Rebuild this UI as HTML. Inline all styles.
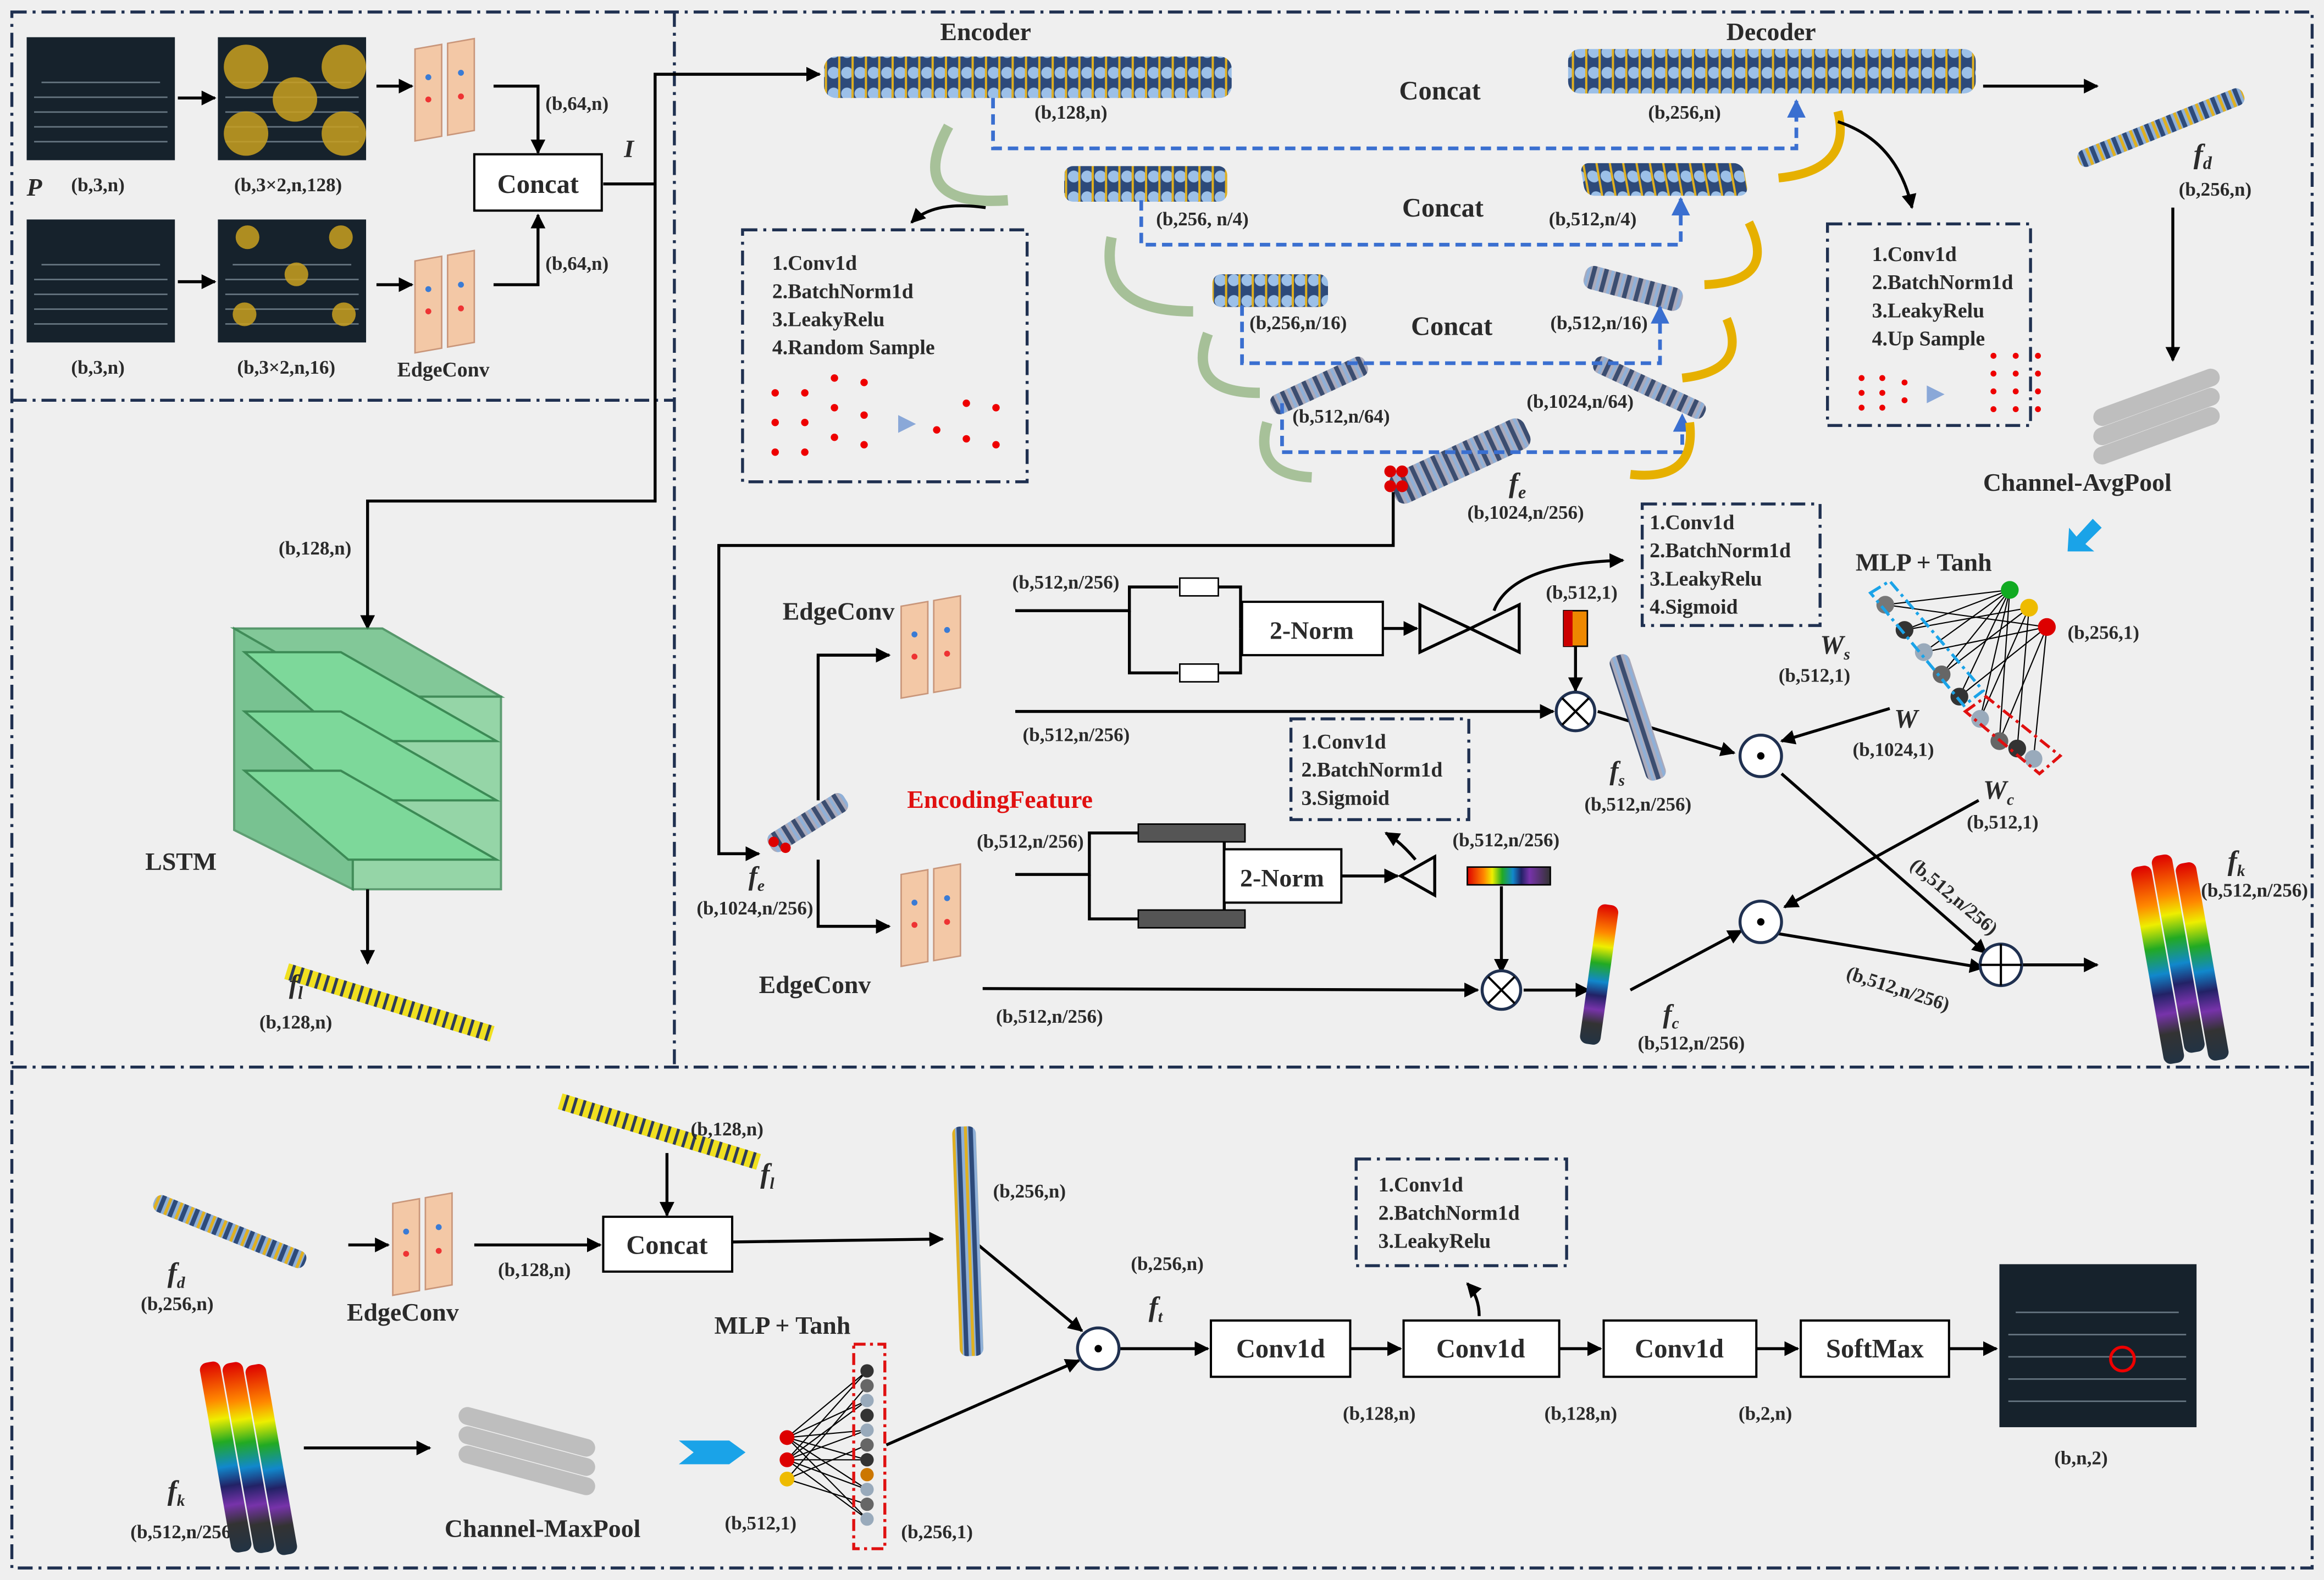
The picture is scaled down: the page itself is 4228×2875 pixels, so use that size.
<!DOCTYPE html>
<html><head><meta charset="utf-8"><style>
html,body{margin:0;padding:0;background:#efefef}
svg{display:block}
text{font-family:"Liberation Serif",serif;font-weight:bold;fill:#2a2a2a}
</style></head><body>
<svg width="4228" height="2875" viewBox="0 0 1568 1066" xmlns="http://www.w3.org/2000/svg">
<defs>
<marker id="a" viewBox="0 0 10 10" refX="9" refY="5" markerWidth="5" markerHeight="5" orient="auto"><path d="M0,0L10,5L0,10z" fill="#000"/></marker>
<marker id="ab" viewBox="0 0 10 10" refX="9" refY="5" markerWidth="5" markerHeight="5" orient="auto"><path d="M0,0L10,5L0,10z" fill="#3a6fd0"/></marker>
<pattern id="st" width="8" height="10" patternUnits="userSpaceOnUse"><rect width="8" height="10" fill="#8fb0d8"/><rect x="0" width="3" height="10" fill="#2d4a7a"/><rect x="5" width="2" height="10" fill="#e0b020"/></pattern>
<pattern id="st2" width="9" height="14" patternUnits="userSpaceOnUse"><rect width="9" height="14" fill="#2d4a7a"/><circle cx="4.5" cy="7" r="4" fill="#9cc0e8"/><rect x="7.5" width="1.5" height="14" fill="#e0b020"/></pattern>
<pattern id="gs" width="8" height="10" patternUnits="userSpaceOnUse"><rect width="8" height="10" fill="#aab"/><rect width="3" height="10" fill="#3b4d70"/><rect x="5" width="2" height="10" fill="#8fb0d8"/></pattern>
<pattern id="ys" width="6" height="10" patternUnits="userSpaceOnUse"><rect width="6" height="10" fill="#f0e020"/><rect width="2" height="10" fill="#2d3b5a"/></pattern>
<linearGradient id="rb" x1="0" y1="0" x2="0" y2="1"><stop offset="0" stop-color="#d00"/><stop offset=".2" stop-color="#f80"/><stop offset=".3" stop-color="#ee0"/><stop offset=".42" stop-color="#2a2"/><stop offset=".55" stop-color="#18c"/><stop offset=".65" stop-color="#226"/><stop offset=".75" stop-color="#73a"/><stop offset=".85" stop-color="#333"/><stop offset="1" stop-color="#234"/></linearGradient>
<linearGradient id="rbh" x1="0" y1="0" x2="1" y2="0"><stop offset="0" stop-color="#d00"/><stop offset=".2" stop-color="#f80"/><stop offset=".3" stop-color="#ee0"/><stop offset=".42" stop-color="#2a2"/><stop offset=".55" stop-color="#18c"/><stop offset=".65" stop-color="#226"/><stop offset=".75" stop-color="#73a"/><stop offset="1" stop-color="#333"/></linearGradient>
<g id="ec"><rect x="0" y="6" width="18" height="62" fill="#f3c8a6" stroke="#c9967a" transform="skewY(-10)"/><rect x="22" y="6" width="18" height="62" fill="#f3c8a6" stroke="#c9967a" transform="skewY(-10)"/><circle cx="9" cy="25" r="2" fill="#3a7bd5"/><circle cx="9" cy="40" r="2" fill="#e33"/><circle cx="31" cy="22" r="2" fill="#3a7bd5"/><circle cx="31" cy="38" r="2" fill="#e33"/></g>
<g id="pc"><rect width="100" height="83" fill="#16222c"/><g fill="#8a9aa6" opacity=".7"><rect x="5" y="40" width="90" height="1"/><rect x="5" y="50" width="90" height="1"/><rect x="5" y="60" width="90" height="1"/><rect x="5" y="70" width="90" height="1"/><rect x="10" y="30" width="80" height="1"/></g></g>
</defs>
<rect width="1568" height="1066" fill="#efefef"/>
<g fill="none" stroke="#1f3050" stroke-width="2" stroke-dasharray="10,4,2,4">
<rect x="8" y="8" width="1552" height="1050"/>
<line x1="8" y1="270" x2="455" y2="270"/>
<line x1="455" y1="8" x2="455" y2="718"/>
<line x1="8" y1="720" x2="1560" y2="720"/>
</g>
<use href="#pc" x="18" y="25"/>
<use href="#pc" x="147" y="25"/>
<g fill="#c9a020" opacity=".85"><circle cx="166" cy="45" r="15"/><circle cx="232" cy="45" r="15"/><circle cx="199" cy="67" r="15"/><circle cx="166" cy="90" r="15"/><circle cx="232" cy="90" r="15"/></g>
<use href="#pc" x="18" y="148"/>
<use href="#pc" x="147" y="148"/>
<g fill="#c9a020" opacity=".85"><circle cx="167" cy="160" r="8"/><circle cx="230" cy="160" r="8"/><circle cx="200" cy="185" r="8"/><circle cx="165" cy="212" r="8"/><circle cx="232" cy="212" r="8"/></g>
<g stroke="#000" stroke-width="2" fill="none" marker-end="url(#a)">
<line x1="120" y1="66" x2="145" y2="66"/><line x1="254" y1="58" x2="278" y2="58"/>
<line x1="120" y1="190" x2="145" y2="190"/><line x1="254" y1="192" x2="278" y2="192"/>
<polyline points="333,58 363,58 363,103"/><polyline points="333,192 363,192 363,145"/>
<polyline points="407,124 442,124 442,50 553,50"/>
<polyline points="442,124 442,338 248,338 248,424"/>
</g>
<use href="#ec" x="280" y="27"/><use href="#ec" x="280" y="170"/>
<rect x="320" y="104" width="86" height="38" fill="#fff" stroke="#000" stroke-width="1.5"/>
<text x="363" y="130" font-size="18" text-anchor="middle">Concat</text>
<text x="421" y="106" font-size="17" font-style="italic">I</text>
<text x="18" y="132" font-size="17" font-style="italic">P</text>
<g font-size="13"><text x="48" y="129">(b,3,n)</text><text x="158" y="129">(b,3×2,n,128)</text><text x="368" y="74">(b,64,n)</text><text x="368" y="182">(b,64,n)</text>
<text x="48" y="252">(b,3,n)</text><text x="160" y="252">(b,3×2,n,16)</text><text x="268" y="254" font-size="14">EdgeConv</text>
<text x="188" y="374">(b,128,n)</text></g>
<g stroke="#3c8a55" stroke-width="1.5">
<polygon points="158,424 258,424 338,470 238,470" fill="#6fc28a" opacity=".85"/>
<polygon points="238,470 338,470 338,600 238,600" fill="#7fcf96" opacity=".8"/>
<polygon points="158,424 238,470 238,600 158,560" fill="#5bb87a" opacity=".8"/>
<polygon points="165,440 230,440 335,500 235,500" fill="#7dd89a"/>
<polygon points="165,480 230,480 335,540 235,540" fill="#7dd89a"/>
<polygon points="165,520 230,520 335,580 235,580" fill="#7dd89a"/>
</g>
<text x="98" y="587" font-size="17">LSTM</text>
<line x1="248" y1="600" x2="248" y2="650" stroke="#000" stroke-width="2" marker-end="url(#a)"/>
<rect x="195" y="650" width="145" height="11" fill="url(#ys)" transform="rotate(17 195 650)"/>
<text x="195" y="670" font-size="18" font-style="italic">f<tspan font-size="12" dy="4">l</tspan></text>
<text x="175" y="694" font-size="13">(b,128,n)</text>
<text x="665" y="27" font-size="17" text-anchor="middle">Encoder</text>
<text x="1195" y="27" font-size="17" text-anchor="middle">Decoder</text>
<rect x="556" y="38" width="275" height="28" rx="8" fill="url(#st2)"/>
<rect x="1058" y="33" width="275" height="30" rx="8" fill="url(#st2)"/>
<text x="698" y="80" font-size="13">(b,128,n)</text><text x="1112" y="80" font-size="13">(b,256,n)</text>
<text x="944" y="67" font-size="18">Concat</text>
<rect x="718" y="112" width="110" height="24" rx="6" fill="url(#st2)"/>
<rect x="1068" y="110" width="110" height="22" rx="6" fill="url(#st2)" transform="skewX(10)" transform-origin="1120 122"/>
<text x="946" y="146" font-size="18">Concat</text>
<text x="780" y="152" font-size="13">(b,256, n/4)</text><text x="1045" y="152" font-size="13">(b,512,n/4)</text>
<rect x="818" y="185" width="78" height="22" rx="6" fill="url(#st2)"/>
<rect x="1068" y="186" width="68" height="16" rx="6" fill="url(#gs)" transform="rotate(15 1100 194)"/>
<text x="952" y="226" font-size="18">Concat</text>
<text x="843" y="222" font-size="13">(b,256,n/16)</text><text x="1046" y="222" font-size="13">(b,512,n/16)</text>
<rect x="855" y="253" width="70" height="14" rx="5" fill="url(#gs)" transform="rotate(-25 890 260)"/>
<rect x="1072" y="255" width="82" height="12" rx="5" fill="url(#gs)" transform="rotate(25 1112 261)"/>
<text x="872" y="285" font-size="13">(b,512,n/64)</text><text x="1030" y="275" font-size="13">(b,1024,n/64)</text>
<rect x="935" y="300" width="100" height="22" rx="7" fill="url(#gs)" transform="rotate(-25 985 311)"/>
<g fill="#d00"><circle cx="938" cy="318" r="4"/><circle cx="946" cy="318" r="4"/><circle cx="938" cy="328" r="4"/><circle cx="946" cy="328" r="4"/></g>
<text x="1018" y="332" font-size="19" font-style="italic">f<tspan font-size="12" dy="4">e</tspan></text>
<text x="990" y="350" font-size="13">(b,1024,n/256)</text>
<g fill="none" stroke="#3a6fd0" stroke-width="2.5" stroke-dasharray="7,4">
<polyline points="670,66 670,100 1212,100 1212,68" marker-end="url(#ab)"/>
<polyline points="770,135 770,165 1134,165 1134,134" marker-end="url(#ab)"/>
<polyline points="838,206 838,245 1120,245 1120,207" marker-end="url(#ab)"/>
<polyline points="865,272 865,305 1135,305 1135,280" marker-end="url(#ab)"/>
</g>
<g fill="none" stroke="#9ab88a" stroke-width="7" opacity=".85">
<path d="M640,85 Q610,140 680,135"/><path d="M750,160 Q740,210 805,210"/><path d="M815,225 Q800,265 850,265"/><path d="M855,285 Q845,320 885,322"/>
</g>
<g fill="none" stroke="#e6b000" stroke-width="6">
<path d="M1240,75 Q1250,115 1200,120"/><path d="M1180,150 Q1200,190 1150,192"/><path d="M1165,215 Q1180,250 1135,255"/><path d="M1140,285 Q1145,325 1100,320"/>
</g>
<path d="M665,140 Q630,135 615,150" fill="none" stroke="#000" stroke-width="2" marker-end="url(#a)"/>
<g fill="none" stroke="#1f3050" stroke-width="2" stroke-dasharray="10,4,2,4"><rect x="501" y="155" width="192" height="170"/><rect x="1233" y="151" width="137" height="136"/><rect x="1108" y="340" width="120" height="82"/><rect x="871" y="485" width="120" height="68"/><rect x="915" y="782" width="142" height="72"/></g>
<g font-size="14"><text x="521" y="182">1.Conv1d</text><text x="521" y="201">2.BatchNorm1d</text><text x="521" y="220">3.LeakyRelu</text><text x="521" y="239">4.Random Sample</text>
<text x="1263" y="176">1.Conv1d</text><text x="1263" y="195">2.BatchNorm1d</text><text x="1263" y="214">3.LeakyRelu</text><text x="1263" y="233">4.Up Sample</text>
<text x="1113" y="357">1.Conv1d</text><text x="1113" y="376">2.BatchNorm1d</text><text x="1113" y="395">3.LeakyRelu</text><text x="1113" y="414">4.Sigmoid</text>
<text x="878" y="505">1.Conv1d</text><text x="878" y="524">2.BatchNorm1d</text><text x="878" y="543">3.Sigmoid</text>
<text x="930" y="804">1.Conv1d</text><text x="930" y="823">2.BatchNorm1d</text><text x="930" y="842">3.LeakyRelu</text></g>
<g fill="#e00"><circle cx="523" cy="265" r="2.5"/><circle cx="523" cy="285" r="2.5"/><circle cx="523" cy="305" r="2.5"/><circle cx="543" cy="265" r="2.5"/><circle cx="543" cy="285" r="2.5"/><circle cx="543" cy="305" r="2.5"/><circle cx="563" cy="255" r="2.5"/><circle cx="563" cy="275" r="2.5"/><circle cx="563" cy="295" r="2.5"/><circle cx="583" cy="258" r="2.5"/><circle cx="583" cy="280" r="2.5"/><circle cx="583" cy="300" r="2.5"/><circle cx="632" cy="290" r="2.5"/><circle cx="652" cy="272" r="2.5"/><circle cx="652" cy="296" r="2.5"/><circle cx="672" cy="275" r="2.5"/><circle cx="672" cy="300" r="2.5"/>
<circle cx="1256" cy="255" r="2"/><circle cx="1256" cy="265" r="2"/><circle cx="1256" cy="275" r="2"/><circle cx="1270" cy="255" r="2"/><circle cx="1270" cy="265" r="2"/><circle cx="1270" cy="275" r="2"/><circle cx="1285" cy="258" r="2"/><circle cx="1285" cy="270" r="2"/><circle cx="1345" cy="240" r="2"/><circle cx="1345" cy="252" r="2"/><circle cx="1345" cy="264" r="2"/><circle cx="1345" cy="276" r="2"/><circle cx="1360" cy="240" r="2"/><circle cx="1360" cy="252" r="2"/><circle cx="1360" cy="264" r="2"/><circle cx="1360" cy="276" r="2"/><circle cx="1375" cy="240" r="2"/><circle cx="1375" cy="252" r="2"/><circle cx="1375" cy="264" r="2"/><circle cx="1375" cy="276" r="2"/></g>
<polygon points="606,280 618,286 606,292" fill="#8aa8d8"/><polygon points="1300,260 1312,266 1300,272" fill="#8aa8d8"/>
<path d="M1240,82 Q1280,95 1290,140" fill="none" stroke="#000" stroke-width="2" marker-end="url(#a)"/>
<line x1="1338" y1="58" x2="1415" y2="58" stroke="#000" stroke-width="2" marker-end="url(#a)"/>
<rect x="1398" y="80" width="120" height="12" rx="5" fill="url(#st)" transform="rotate(-22 1458 86)"/>
<text x="1480" y="110" font-size="19" font-style="italic">f<tspan font-size="12" dy="4">d</tspan></text>
<text x="1470" y="132" font-size="13">(b,256,n)</text>
<line x1="1466" y1="140" x2="1466" y2="243" stroke="#000" stroke-width="2" marker-end="url(#a)"/>
<g fill="#aaa" opacity=".7"><rect x="1410" y="262" width="90" height="12" rx="6" transform="rotate(-20 1455 268)"/><rect x="1410" y="275" width="90" height="12" rx="6" transform="rotate(-20 1455 281)"/><rect x="1410" y="288" width="90" height="12" rx="6" transform="rotate(-20 1455 294)"/></g>
<text x="1338" y="331" font-size="17">Channel-AvgPool</text>
<polygon points="1395,372 1396,356 1401,362 1412,350 1418,356 1407,367 1413,372" fill="#1aa3e8"/>
<polyline points="940,332 940,368 485,368 485,576 512,576" fill="none" stroke="#000" stroke-width="2" marker-end="url(#a)"/>
<rect x="515" y="548" width="60" height="14" rx="5" fill="url(#gs)" transform="rotate(-32 545 555)"/>
<g fill="#d00"><circle cx="522" cy="568" r="3.5"/><circle cx="530" cy="572" r="3.5"/></g>
<text x="505" y="597" font-size="18" font-style="italic">f<tspan font-size="11" dy="4">e</tspan></text>
<text x="470" y="617" font-size="13">(b,1024,n/256)</text>
<g stroke="#000" stroke-width="2" fill="none">
<polyline points="552,540 552,442 600,442" marker-end="url(#a)"/>
<polyline points="552,580 552,625 600,625" marker-end="url(#a)"/>
<polyline points="685,412 762,412 762,396 795,396"/><polyline points="762,412 762,454 795,454"/>
<polyline points="822,396 837,396 837,424"/><polyline points="822,454 837,454 837,424"/>
<line x1="933" y1="424" x2="956" y2="424" marker-end="url(#a)"/>
<polygon points="958,408 958,440 992,424"/><polygon points="1025,408 1025,440 992,424"/>
<path d="M1008,412 Q1020,380 1095,378" marker-end="url(#a)"/>
<line x1="1063" y1="436" x2="1063" y2="466" marker-end="url(#a)"/>
<line x1="685" y1="480" x2="1048" y2="480" marker-end="url(#a)"/>
<line x1="1078" y1="480" x2="1170" y2="508" marker-end="url(#a)"/>
<polyline points="685,590 735,590 735,562 768,562"/><polyline points="735,590 735,620 768,620"/>
<polyline points="840,562 826,562 826,591"/><polyline points="840,620 826,620 826,591"/>
<line x1="905" y1="591" x2="943" y2="591" marker-end="url(#a)"/>
<polygon points="945,591 968,578 968,604"/>
<path d="M955,580 Q945,568 935,562" marker-end="url(#a)"/>
<line x1="1013" y1="598" x2="1013" y2="656" marker-end="url(#a)"/>
<line x1="663" y1="667" x2="997" y2="668" marker-end="url(#a)"/>
<line x1="1028" y1="668" x2="1072" y2="668" marker-end="url(#a)"/>
<line x1="1100" y1="668" x2="1175" y2="628" marker-end="url(#a)"/>
<line x1="1275" y1="478" x2="1202" y2="500" marker-end="url(#a)"/>
<line x1="1335" y1="540" x2="1204" y2="612" marker-end="url(#a)"/>
<line x1="1202" y1="522" x2="1340" y2="643" marker-end="url(#a)"/>
<line x1="1200" y1="630" x2="1338" y2="653" marker-end="url(#a)"/>
<line x1="1364" y1="651" x2="1415" y2="651" marker-end="url(#a)"/>
</g>
<use href="#ec" x="608" y="403"/><use href="#ec" x="608" y="584"/>
<text x="528" y="418" font-size="17">EdgeConv</text><text x="512" y="670" font-size="17">EdgeConv</text>
<text x="612" y="545" font-size="17" style="fill:#e01010">EncodingFeature</text>
<g fill="#fff" stroke="#000" stroke-width="1.5"><rect x="838" y="406" width="95" height="36"/><rect x="826" y="573" width="79" height="36"/></g>
<text x="885" y="431" font-size="17" text-anchor="middle">2-Norm</text><text x="865" y="598" font-size="17" text-anchor="middle">2-Norm</text>
<g fill="#fff" stroke="#000"><rect x="796" y="390" width="26" height="12"/><rect x="796" y="448" width="26" height="12"/><rect x="768" y="556" width="72" height="12" fill="#555"/><rect x="768" y="614" width="72" height="12" fill="#555"/></g>
<rect x="1055" y="412" width="16" height="24" fill="#e80" stroke="#000"/><rect x="1055" y="412" width="6" height="24" fill="#c00"/>
<rect x="990" y="585" width="56" height="12" fill="url(#rbh)" stroke="#000"/>
<g fill="#fff" stroke="#1f3050" stroke-width="2"><circle cx="1063" cy="480" r="13"/><circle cx="1013" cy="668" r="13"/><circle cx="1188" cy="510" r="14"/><circle cx="1188" cy="622" r="14"/><circle cx="1350" cy="651" r="14"/></g>
<g stroke="#000" stroke-width="1.5"><line x1="1054" y1="471" x2="1072" y2="489"/><line x1="1072" y1="471" x2="1054" y2="489"/><line x1="1004" y1="659" x2="1022" y2="677"/><line x1="1022" y1="659" x2="1004" y2="677"/><line x1="1350" y1="637" x2="1350" y2="665"/><line x1="1336" y1="651" x2="1364" y2="651"/></g>
<circle cx="1188" cy="510" r="2.5"/><circle cx="1188" cy="622" r="2.5"/>
<rect x="1098" y="440" width="14" height="88" rx="5" fill="url(#gs)" transform="rotate(-18 1105 484)"/>
<rect x="1072" y="610" width="14" height="95" rx="5" fill="url(#rb)" transform="rotate(8 1079 657)"/>
<g font-size="13"><text x="683" y="397">(b,512,n/256)</text><text x="690" y="500">(b,512,n/256)</text><text x="659" y="572">(b,512,n/256)</text><text x="672" y="690">(b,512,n/256)</text><text x="1043" y="404">(b,512,1)</text><text x="980" y="571">(b,512,n/256)</text>
<text x="1069" y="547">(b,512,n/256)</text><text x="1105" y="708">(b,512,n/256)</text><text x="1200" y="460">(b,512,1)</text><text x="1250" y="510">(b,1024,1)</text><text x="1327" y="559">(b,512,1)</text><text x="1395" y="431">(b,256,1)</text>
<text x="1288" y="585" transform="rotate(40 1288 585)">(b,512,n/256)</text><text x="1245" y="660" transform="rotate(18 1245 660)">(b,512,n/256)</text><text x="1485" y="605">(b,512,n/256)</text></g>
<text x="1086" y="526" font-size="18" font-style="italic">f<tspan font-size="11" dy="4">s</tspan></text>
<text x="1122" y="690" font-size="18" font-style="italic">f<tspan font-size="11" dy="4">c</tspan></text>
<text x="1228" y="441" font-size="18" font-style="italic">W<tspan font-size="11" dy="4">s</tspan></text>
<text x="1278" y="491" font-size="18" font-style="italic">W</text>
<text x="1338" y="539" font-size="18" font-style="italic">W<tspan font-size="11" dy="4">c</tspan></text>
<text x="1503" y="587" font-size="19" font-style="italic">f<tspan font-size="11" dy="4">k</tspan></text>
<text x="1252" y="385" font-size="17">MLP + Tanh</text>
<g stroke="#000" stroke-width=".8"><line x1="1272" y1="408" x2="1356" y2="398"/><line x1="1285" y1="425" x2="1356" y2="398"/><line x1="1298" y1="440" x2="1356" y2="398"/><line x1="1310" y1="455" x2="1356" y2="398"/><line x1="1322" y1="470" x2="1356" y2="398"/><line x1="1336" y1="485" x2="1356" y2="398"/><line x1="1349" y1="500" x2="1356" y2="398"/><line x1="1272" y1="408" x2="1381" y2="423"/><line x1="1298" y1="440" x2="1381" y2="423"/><line x1="1322" y1="470" x2="1381" y2="423"/><line x1="1349" y1="500" x2="1381" y2="423"/><line x1="1372" y1="512" x2="1381" y2="423"/><line x1="1285" y1="425" x2="1369" y2="410"/><line x1="1310" y1="455" x2="1369" y2="410"/><line x1="1336" y1="485" x2="1369" y2="410"/><line x1="1361" y1="505" x2="1369" y2="410"/></g>
<g><circle cx="1272" cy="408" r="6" fill="#777"/><circle cx="1285" cy="425" r="6" fill="#333"/><circle cx="1298" cy="440" r="6" fill="#9ab"/><circle cx="1310" cy="455" r="6" fill="#666"/><circle cx="1322" cy="470" r="6" fill="#333"/><circle cx="1336" cy="485" r="6" fill="#9ab"/><circle cx="1349" cy="500" r="6" fill="#666"/><circle cx="1361" cy="505" r="6" fill="#333"/><circle cx="1372" cy="512" r="6" fill="#9ab"/><circle cx="1356" cy="398" r="6" fill="#1a2"/><circle cx="1369" cy="410" r="6" fill="#eb0"/><circle cx="1381" cy="423" r="6" fill="#d00"/></g>
<g fill="none" stroke-width="2" stroke-dasharray="8,3,2,3"><polygon points="1262,400 1275,392 1338,466 1325,476" stroke="#1aa3e8"/><polygon points="1326,480 1340,470 1390,510 1376,522" stroke="#e01010"/></g>
<g transform="rotate(-10 1475 645)"><rect x="1448" y="580" width="14" height="135" rx="5" fill="url(#rb)"/><rect x="1463" y="575" width="14" height="135" rx="5" fill="url(#rb)"/><rect x="1478" y="583" width="14" height="135" rx="5" fill="url(#rb)"/></g>
<rect x="100" y="825" width="110" height="12" rx="5" fill="url(#st)" transform="rotate(22 155 831)"/>
<text x="113" y="865" font-size="19" font-style="italic">f<tspan font-size="11" dy="4">d</tspan></text>
<text x="95" y="884" font-size="13">(b,256,n)</text>
<use href="#ec" x="265" y="806"/>
<text x="234" y="891" font-size="17">EdgeConv</text>
<rect x="375" y="758" width="140" height="11" fill="url(#ys)" transform="rotate(17 445 763)"/>
<text x="466" y="766" font-size="13">(b,128,n)</text>
<text x="513" y="798" font-size="19" font-style="italic">f<tspan font-size="11" dy="4">l</tspan></text>
<g stroke="#000" stroke-width="2" fill="none">
<line x1="235" y1="840" x2="262" y2="840" marker-end="url(#a)"/>
<line x1="320" y1="840" x2="405" y2="840" marker-end="url(#a)"/>
<line x1="450" y1="778" x2="450" y2="820" marker-end="url(#a)"/>
<line x1="494" y1="838" x2="636" y2="836" marker-end="url(#a)"/>
<line x1="660" y1="840" x2="730" y2="898" marker-end="url(#a)"/>
<line x1="598" y1="975" x2="728" y2="918" marker-end="url(#a)"/>
<line x1="755" y1="910" x2="815" y2="910" marker-end="url(#a)"/>
<line x1="911" y1="910" x2="945" y2="910" marker-end="url(#a)"/>
<line x1="1052" y1="910" x2="1080" y2="910" marker-end="url(#a)"/>
<line x1="1185" y1="910" x2="1213" y2="910" marker-end="url(#a)"/>
<line x1="1315" y1="910" x2="1347" y2="910" marker-end="url(#a)"/>
<line x1="205" y1="977" x2="290" y2="977" marker-end="url(#a)"/>
<path d="M998,888 Q998,875 990,866" marker-end="url(#a)"/>
</g>
<rect x="407" y="821" width="87" height="37" fill="#fff" stroke="#000" stroke-width="1.5"/>
<text x="450" y="846" font-size="18" text-anchor="middle">Concat</text>
<text x="336" y="861" font-size="13">(b,128,n)</text>
<rect x="645" y="760" width="16" height="155" rx="5" fill="url(#st)" transform="rotate(-2 653 838)"/>
<text x="670" y="808" font-size="13">(b,256,n)</text>
<circle cx="741" cy="910" r="14" fill="#fff" stroke="#1f3050" stroke-width="2"/><circle cx="741" cy="910" r="2.5"/>
<text x="763" y="857" font-size="13">(b,256,n)</text>
<text x="775" y="888" font-size="19" font-style="italic">f<tspan font-size="11" dy="4">t</tspan></text>
<g fill="#fff" stroke="#000" stroke-width="1.5"><rect x="817" y="891" width="94" height="38"/><rect x="947" y="891" width="105" height="38"/><rect x="1082" y="891" width="103" height="38"/><rect x="1215" y="891" width="100" height="38"/></g>
<g font-size="18" text-anchor="middle"><text x="864" y="916">Conv1d</text><text x="999" y="916">Conv1d</text><text x="1133" y="916">Conv1d</text><text x="1265" y="916">SoftMax</text></g>
<g font-size="13"><text x="906" y="958">(b,128,n)</text><text x="1042" y="958">(b,128,n)</text><text x="1173" y="958">(b,2,n)</text><text x="1386" y="988">(b,n,2)</text><text x="489" y="1032">(b,512,1)</text><text x="608" y="1038">(b,256,1)</text><text x="88" y="1038">(b,512,n/256)</text></g>
<rect x="1349" y="853" width="133" height="110" fill="#16222c"/>
<g fill="#8a9aa6" opacity=".7"><rect x="1355" y="900" width="120" height="1"/><rect x="1355" y="915" width="120" height="1"/><rect x="1355" y="930" width="120" height="1"/><rect x="1355" y="945" width="120" height="1"/><rect x="1360" y="885" width="110" height="1"/></g>
<circle cx="1432" cy="917" r="8" fill="none" stroke="#e00" stroke-width="2"/>
<g transform="rotate(-10 170 980)"><rect x="145" y="915" width="14" height="130" rx="5" fill="url(#rb)"/><rect x="160" y="918" width="14" height="130" rx="5" fill="url(#rb)"/><rect x="175" y="922" width="14" height="130" rx="5" fill="url(#rb)"/></g>
<text x="113" y="1012" font-size="19" font-style="italic">f<tspan font-size="11" dy="4">k</tspan></text>
<g fill="#aaa" opacity=".7"><rect x="308" y="960" width="95" height="12" rx="6" transform="rotate(15 355 966)"/><rect x="308" y="973" width="95" height="12" rx="6" transform="rotate(15 355 979)"/><rect x="308" y="986" width="95" height="12" rx="6" transform="rotate(15 355 992)"/></g>
<text x="300" y="1037" font-size="17">Channel-MaxPool</text>
<polygon points="458,972 492,972 503,980 492,988 458,988 468,980" fill="#1aa3e8"/>
<text x="482" y="900" font-size="17">MLP + Tanh</text>
<g stroke="#000" stroke-width=".8">
<line x1="531" y1="970" x2="585" y2="925"/><line x1="531" y1="970" x2="585" y2="945"/><line x1="531" y1="970" x2="585" y2="965"/><line x1="531" y1="970" x2="585" y2="985"/><line x1="531" y1="970" x2="585" y2="1005"/><line x1="531" y1="970" x2="585" y2="1025"/>
<line x1="531" y1="985" x2="585" y2="925"/><line x1="531" y1="985" x2="585" y2="945"/><line x1="531" y1="985" x2="585" y2="965"/><line x1="531" y1="985" x2="585" y2="985"/><line x1="531" y1="985" x2="585" y2="1005"/><line x1="531" y1="985" x2="585" y2="1025"/>
<line x1="531" y1="998" x2="585" y2="935"/><line x1="531" y1="998" x2="585" y2="975"/><line x1="531" y1="998" x2="585" y2="1015"/></g>
<g><circle cx="531" cy="970" r="5" fill="#d00"/><circle cx="531" cy="985" r="5" fill="#d00"/><circle cx="531" cy="998" r="5" fill="#eb0"/>
<circle cx="585" cy="925" r="4.5" fill="#333"/><circle cx="585" cy="935" r="4.5" fill="#666"/><circle cx="585" cy="945" r="4.5" fill="#9ab"/><circle cx="585" cy="955" r="4.5" fill="#333"/><circle cx="585" cy="965" r="4.5" fill="#9ab"/><circle cx="585" cy="975" r="4.5" fill="#666"/><circle cx="585" cy="985" r="4.5" fill="#333"/><circle cx="585" cy="995" r="4.5" fill="#c70"/><circle cx="585" cy="1005" r="4.5" fill="#9ab"/><circle cx="585" cy="1015" r="4.5" fill="#666"/><circle cx="585" cy="1025" r="4.5" fill="#9ab"/></g>
<rect x="576" y="907" width="21" height="138" fill="none" stroke="#e01010" stroke-width="2" stroke-dasharray="8,3,2,3"/>
</svg>
</body></html>
